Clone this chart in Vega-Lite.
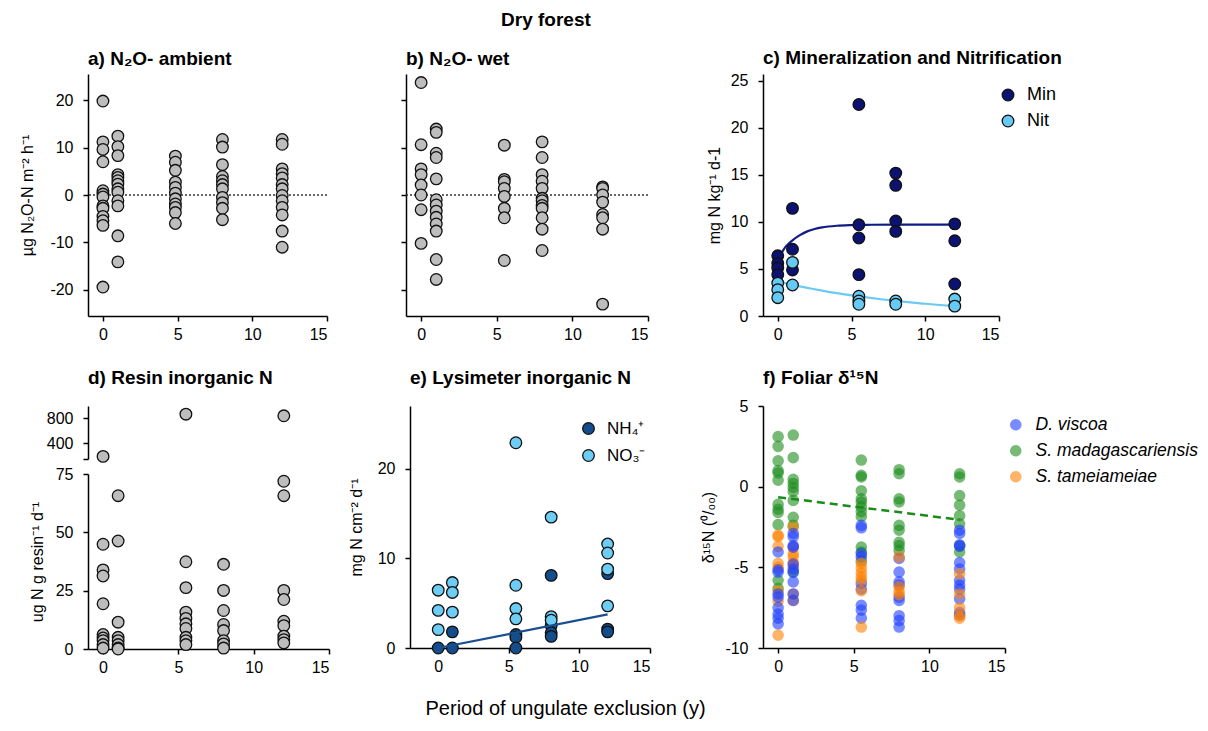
{
  "$schema": "https://vega.github.io/schema/vega-lite/v6.json",
  "padding": {"left": 19, "top": 10, "right": 0, "bottom": 0},
  "title": {"text": "Dry forest", "anchor": "middle", "frame": "bounds", "fontSize": 19, "offset": 19, "dx": -63},
  "datasets": {
    "amb": [
      {"x": 0, "v": 19.8}, {"x": 0, "v": 11.2}, {"x": 0, "v": 9.6}, {"x": 0, "v": 7.0}, {"x": 0, "v": 0.9}, {"x": 0, "v": 0.2}, {"x": 0, "v": -0.4}, {"x": 0, "v": -2.3}, {"x": 0, "v": -2.8}, {"x": 0, "v": -4.5}, {"x": 0, "v": -5.4}, {"x": 0, "v": -6.4}, {"x": 0, "v": -19.4},
      {"x": 1, "v": 12.4}, {"x": 1, "v": 10.2}, {"x": 1, "v": 8.3}, {"x": 1, "v": 4.3}, {"x": 1, "v": 3.7}, {"x": 1, "v": 3.0}, {"x": 1, "v": 2.3}, {"x": 1, "v": 1.3}, {"x": 1, "v": 0.6}, {"x": 1, "v": -1.2}, {"x": 1, "v": -2.3}, {"x": 1, "v": -8.6}, {"x": 1, "v": -14.1},
      {"x": 4.85, "v": 8.2}, {"x": 4.85, "v": 6.9}, {"x": 4.85, "v": 5.2}, {"x": 4.85, "v": 2.7}, {"x": 4.85, "v": 1.6}, {"x": 4.85, "v": 0.4}, {"x": 4.85, "v": -0.8}, {"x": 4.85, "v": -1.9}, {"x": 4.85, "v": -2.6}, {"x": 4.85, "v": -3.7}, {"x": 4.85, "v": -6.0},
      {"x": 8, "v": 11.7}, {"x": 8, "v": 10.1}, {"x": 8, "v": 6.4}, {"x": 8, "v": 3.9}, {"x": 8, "v": 3.0}, {"x": 8, "v": 2.2}, {"x": 8, "v": 1.3}, {"x": 8, "v": -0.5}, {"x": 8, "v": -1.6}, {"x": 8, "v": -2.8}, {"x": 8, "v": -5.2},
      {"x": 12, "v": 11.7}, {"x": 12, "v": 10.7}, {"x": 12, "v": 5.5}, {"x": 12, "v": 4.5}, {"x": 12, "v": 3.6}, {"x": 12, "v": 2.2}, {"x": 12, "v": 1.3}, {"x": 12, "v": -0.1}, {"x": 12, "v": -1.2}, {"x": 12, "v": -2.6}, {"x": 12, "v": -4.2}, {"x": 12, "v": -7.6}, {"x": 12, "v": -11.0}
    ],
    "wet": [
      {"x": 0, "v": 23.7}, {"x": 0, "v": 10.6}, {"x": 0, "v": 5.5}, {"x": 0, "v": 4.3}, {"x": 0, "v": 2.1}, {"x": 0, "v": 0}, {"x": 0, "v": -3.1}, {"x": 0, "v": -10.2},
      {"x": 1, "v": 13.9}, {"x": 1, "v": 13.2}, {"x": 1, "v": 8.8}, {"x": 1, "v": 7.9}, {"x": 1, "v": 3.4}, {"x": 1, "v": -1.0}, {"x": 1, "v": -2.1}, {"x": 1, "v": -3.4}, {"x": 1, "v": -4.7}, {"x": 1, "v": -6.1}, {"x": 1, "v": -7.6}, {"x": 1, "v": -13.6}, {"x": 1, "v": -17.8},
      {"x": 5.5, "v": 10.5}, {"x": 5.5, "v": 3.3}, {"x": 5.5, "v": 2.8}, {"x": 5.5, "v": 1.4}, {"x": 5.5, "v": -0.3}, {"x": 5.5, "v": -2.8}, {"x": 5.5, "v": -4.8}, {"x": 5.5, "v": -13.8},
      {"x": 8, "v": 11.2}, {"x": 8, "v": 7.9}, {"x": 8, "v": 4.3}, {"x": 8, "v": 2.9}, {"x": 8, "v": 1.4}, {"x": 8, "v": -0.7}, {"x": 8, "v": -1.2}, {"x": 8, "v": -2.2}, {"x": 8, "v": -2.8}, {"x": 8, "v": -4.8}, {"x": 8, "v": -7.2}, {"x": 8, "v": -11.7},
      {"x": 12, "v": 1.7}, {"x": 12, "v": 1.4}, {"x": 12, "v": 0}, {"x": 12, "v": -1.5}, {"x": 12, "v": -4.1}, {"x": 12, "v": -4.8}, {"x": 12, "v": -7.2}, {"x": 12, "v": -23.0}
    ],
    "minnit": [
      {"x": 0, "t": "Min", "v": 6.4}, {"x": 0, "t": "Min", "v": 5.6}, {"x": 0, "t": "Min", "v": 5.1}, {"x": 0, "t": "Min", "v": 4.4},
      {"x": 1, "t": "Min", "v": 11.45}, {"x": 1, "t": "Min", "v": 7.1}, {"x": 1, "t": "Min", "v": 4.9},
      {"x": 5.5, "t": "Min", "v": 22.5}, {"x": 5.5, "t": "Min", "v": 9.7}, {"x": 5.5, "t": "Min", "v": 8.3}, {"x": 5.5, "t": "Min", "v": 4.4},
      {"x": 8, "t": "Min", "v": 15.2}, {"x": 8, "t": "Min", "v": 13.9}, {"x": 8, "t": "Min", "v": 10.1}, {"x": 8, "t": "Min", "v": 9.0},
      {"x": 12, "t": "Min", "v": 9.8}, {"x": 12, "t": "Min", "v": 8.0}, {"x": 12, "t": "Min", "v": 3.4},
      {"x": 0, "t": "Nit", "v": 3.5}, {"x": 0, "t": "Nit", "v": 2.8}, {"x": 0, "t": "Nit", "v": 1.95},
      {"x": 1, "t": "Nit", "v": 5.7}, {"x": 1, "t": "Nit", "v": 3.3},
      {"x": 5.5, "t": "Nit", "v": 2.1}, {"x": 5.5, "t": "Nit", "v": 1.6}, {"x": 5.5, "t": "Nit", "v": 1.25},
      {"x": 8, "t": "Nit", "v": 1.6}, {"x": 8, "t": "Nit", "v": 1.25},
      {"x": 12, "t": "Nit", "v": 1.8}, {"x": 12, "t": "Nit", "v": 1.05}
    ],
    "minfit": [
      {"x": 0, "v": 6.1}, {"x": 0.25, "v": 6.7}, {"x": 0.5, "v": 7.3}, {"x": 0.75, "v": 7.7}, {"x": 1, "v": 8.05}, {"x": 1.5, "v": 8.6}, {"x": 2, "v": 9.0}, {"x": 2.5, "v": 9.25}, {"x": 3, "v": 9.42}, {"x": 4, "v": 9.6}, {"x": 5, "v": 9.67}, {"x": 6, "v": 9.7}, {"x": 8, "v": 9.72}, {"x": 12, "v": 9.72}
    ],
    "nitfit": [
      {"x": 0, "v": 3.7}, {"x": 1, "v": 3.3}, {"x": 2, "v": 3.0}, {"x": 3, "v": 2.7}, {"x": 4, "v": 2.43}, {"x": 5, "v": 2.2}, {"x": 6, "v": 1.98}, {"x": 7, "v": 1.78}, {"x": 8, "v": 1.6}, {"x": 9, "v": 1.44}, {"x": 10, "v": 1.3}, {"x": 11, "v": 1.17}, {"x": 12, "v": 1.05}
    ],
    "resin": [
      {"x": 0, "v": 192}, {"x": 0, "v": 44.9}, {"x": 0, "v": 33.9}, {"x": 0, "v": 31.3}, {"x": 0, "v": 19.4}, {"x": 0, "v": 6.2}, {"x": 0, "v": 4.7}, {"x": 0, "v": 3.6}, {"x": 0, "v": 1.9}, {"x": 0, "v": 0.4},
      {"x": 1, "v": 65.7}, {"x": 1, "v": 46.3}, {"x": 1, "v": 11.5}, {"x": 1, "v": 5.0}, {"x": 1, "v": 3.6}, {"x": 1, "v": 1.9}, {"x": 1, "v": 0.4}, {"x": 1, "v": 0},
      {"x": 5.5, "v": 869}, {"x": 5.5, "v": 37.4}, {"x": 5.5, "v": 26.3}, {"x": 5.5, "v": 15.8}, {"x": 5.5, "v": 13.1}, {"x": 5.5, "v": 10.8}, {"x": 5.5, "v": 8.8}, {"x": 5.5, "v": 5.0}, {"x": 5.5, "v": 3.6}, {"x": 5.5, "v": 1.9},
      {"x": 8, "v": 36.3}, {"x": 8, "v": 25.1}, {"x": 8, "v": 16.5}, {"x": 8, "v": 10.5}, {"x": 8, "v": 7.9}, {"x": 8, "v": 3.6}, {"x": 8, "v": 2.2}, {"x": 8, "v": 0.4},
      {"x": 12, "v": 843}, {"x": 12, "v": 71.9}, {"x": 12, "v": 65.7}, {"x": 12, "v": 25.1}, {"x": 12, "v": 21.2}, {"x": 12, "v": 11.9}, {"x": 12, "v": 10.0}, {"x": 12, "v": 5.5}, {"x": 12, "v": 4.0}, {"x": 12, "v": 2.6}
    ],
    "lys": [
      {"x": 0, "t": "NH₄⁺", "v": 0}, {"x": 1, "t": "NH₄⁺", "v": 1.8}, {"x": 1, "t": "NH₄⁺", "v": 0},
      {"x": 5.5, "t": "NH₄⁺", "v": 1.5}, {"x": 5.5, "t": "NH₄⁺", "v": 1.2}, {"x": 5.5, "t": "NH₄⁺", "v": 0},
      {"x": 8, "t": "NH₄⁺", "v": 8.1}, {"x": 8, "t": "NH₄⁺", "v": 2.5}, {"x": 8, "t": "NH₄⁺", "v": 1.7}, {"x": 8, "t": "NH₄⁺", "v": 1.3},
      {"x": 12, "t": "NH₄⁺", "v": 8.3}, {"x": 12, "t": "NH₄⁺", "v": 2.1}, {"x": 12, "t": "NH₄⁺", "v": 1.8},
      {"x": 0, "t": "NO₃⁻", "v": 6.45}, {"x": 0, "t": "NO₃⁻", "v": 4.2}, {"x": 0, "t": "NO₃⁻", "v": 2.05},
      {"x": 1, "t": "NO₃⁻", "v": 7.3}, {"x": 1, "t": "NO₃⁻", "v": 6.2}, {"x": 1, "t": "NO₃⁻", "v": 4.0},
      {"x": 5.5, "t": "NO₃⁻", "v": 22.9}, {"x": 5.5, "t": "NO₃⁻", "v": 7.0}, {"x": 5.5, "t": "NO₃⁻", "v": 4.4}, {"x": 5.5, "t": "NO₃⁻", "v": 3.25},
      {"x": 8, "t": "NO₃⁻", "v": 14.6}, {"x": 8, "t": "NO₃⁻", "v": 3.5}, {"x": 8, "t": "NO₃⁻", "v": 3.1},
      {"x": 12, "t": "NO₃⁻", "v": 11.6}, {"x": 12, "t": "NO₃⁻", "v": 10.6}, {"x": 12, "t": "NO₃⁻", "v": 8.8}, {"x": 12, "t": "NO₃⁻", "v": 4.7}
    ],
    "lysfit": [{"x": 0, "v": 0.0}, {"x": 12, "v": 3.75}],
    "fol": [
      {"x": 0, "s": "S. madagascariensis", "v": 3.1}, {"x": 0, "s": "S. madagascariensis", "v": 2.5}, {"x": 0, "s": "S. madagascariensis", "v": 1.6}, {"x": 0, "s": "S. madagascariensis", "v": 1.0}, {"x": 0, "s": "S. madagascariensis", "v": 0.85}, {"x": 0, "s": "S. madagascariensis", "v": 0.4}, {"x": 0, "s": "S. madagascariensis", "v": -1.1}, {"x": 0, "s": "S. madagascariensis", "v": -1.4}, {"x": 0, "s": "S. madagascariensis", "v": -1.6}, {"x": 0, "s": "S. madagascariensis", "v": -2.35}, {"x": 0, "s": "S. madagascariensis", "v": -5.8}, {"x": 0, "s": "S. madagascariensis", "v": -6.3},
      {"x": 0, "s": "S. tameiameiae", "v": -3.0}, {"x": 0, "s": "S. tameiameiae", "v": -3.1}, {"x": 0, "s": "S. tameiameiae", "v": -3.7}, {"x": 0, "s": "S. tameiameiae", "v": -4.75}, {"x": 0, "s": "S. tameiameiae", "v": -5.0}, {"x": 0, "s": "S. tameiameiae", "v": -6.45}, {"x": 0, "s": "S. tameiameiae", "v": -7.1}, {"x": 0, "s": "S. tameiameiae", "v": -9.2},
      {"x": 0, "s": "D. viscoa", "v": -4.05}, {"x": 0, "s": "D. viscoa", "v": -5.15}, {"x": 0, "s": "D. viscoa", "v": -5.3}, {"x": 0, "s": "D. viscoa", "v": -6.65}, {"x": 0, "s": "D. viscoa", "v": -6.85}, {"x": 0, "s": "D. viscoa", "v": -7.5}, {"x": 0, "s": "D. viscoa", "v": -7.9}, {"x": 0, "s": "D. viscoa", "v": -8.15}, {"x": 0, "s": "D. viscoa", "v": -8.5},
      {"x": 1, "s": "S. madagascariensis", "v": 3.2}, {"x": 1, "s": "S. madagascariensis", "v": 1.8}, {"x": 1, "s": "S. madagascariensis", "v": 0.45}, {"x": 1, "s": "S. madagascariensis", "v": 0.2}, {"x": 1, "s": "S. madagascariensis", "v": -0.05}, {"x": 1, "s": "S. madagascariensis", "v": -0.3}, {"x": 1, "s": "S. madagascariensis", "v": -0.85}, {"x": 1, "s": "S. madagascariensis", "v": -1.9}, {"x": 1, "s": "S. madagascariensis", "v": -2.4}, {"x": 1, "s": "S. madagascariensis", "v": -5.3},
      {"x": 1, "s": "S. tameiameiae", "v": -2.5}, {"x": 1, "s": "S. tameiameiae", "v": -3.75}, {"x": 1, "s": "S. tameiameiae", "v": -4.15}, {"x": 1, "s": "S. tameiameiae", "v": -4.35}, {"x": 1, "s": "S. tameiameiae", "v": -4.7}, {"x": 1, "s": "S. tameiameiae", "v": -4.9}, {"x": 1, "s": "S. tameiameiae", "v": -6.65}, {"x": 1, "s": "S. tameiameiae", "v": -7.05},
      {"x": 1, "s": "D. viscoa", "v": -2.9}, {"x": 1, "s": "D. viscoa", "v": -3.1}, {"x": 1, "s": "D. viscoa", "v": -3.65}, {"x": 1, "s": "D. viscoa", "v": -3.75}, {"x": 1, "s": "D. viscoa", "v": -4.8}, {"x": 1, "s": "D. viscoa", "v": -5.1}, {"x": 1, "s": "D. viscoa", "v": -5.3}, {"x": 1, "s": "D. viscoa", "v": -5.9}, {"x": 1, "s": "D. viscoa", "v": -6.65}, {"x": 1, "s": "D. viscoa", "v": -7.05},
      {"x": 5.5, "s": "S. madagascariensis", "v": 1.65}, {"x": 5.5, "s": "S. madagascariensis", "v": 0.7}, {"x": 5.5, "s": "S. madagascariensis", "v": 0.6}, {"x": 5.5, "s": "S. madagascariensis", "v": -0.25}, {"x": 5.5, "s": "S. madagascariensis", "v": -0.75}, {"x": 5.5, "s": "S. madagascariensis", "v": -0.95}, {"x": 5.5, "s": "S. madagascariensis", "v": -1.25}, {"x": 5.5, "s": "S. madagascariensis", "v": -1.55}, {"x": 5.5, "s": "S. madagascariensis", "v": -1.85}, {"x": 5.5, "s": "S. madagascariensis", "v": -3.75}, {"x": 5.5, "s": "S. madagascariensis", "v": -4.05}, {"x": 5.5, "s": "S. madagascariensis", "v": -4.6},
      {"x": 5.5, "s": "D. viscoa", "v": -2.4}, {"x": 5.5, "s": "D. viscoa", "v": -2.55}, {"x": 5.5, "s": "D. viscoa", "v": -4.15}, {"x": 5.5, "s": "D. viscoa", "v": -4.35}, {"x": 5.5, "s": "D. viscoa", "v": -6.0}, {"x": 5.5, "s": "D. viscoa", "v": -6.35}, {"x": 5.5, "s": "D. viscoa", "v": -7.35}, {"x": 5.5, "s": "D. viscoa", "v": -7.65}, {"x": 5.5, "s": "D. viscoa", "v": -8.15},
      {"x": 5.5, "s": "S. tameiameiae", "v": -4.75}, {"x": 5.5, "s": "S. tameiameiae", "v": -5.05}, {"x": 5.5, "s": "S. tameiameiae", "v": -5.35}, {"x": 5.5, "s": "S. tameiameiae", "v": -5.6}, {"x": 5.5, "s": "S. tameiameiae", "v": -5.8}, {"x": 5.5, "s": "S. tameiameiae", "v": -6.45}, {"x": 5.5, "s": "S. tameiameiae", "v": -8.7},
      {"x": 8, "s": "S. madagascariensis", "v": 1.05}, {"x": 8, "s": "S. madagascariensis", "v": 0.8}, {"x": 8, "s": "S. madagascariensis", "v": -0.75}, {"x": 8, "s": "S. madagascariensis", "v": -0.95}, {"x": 8, "s": "S. madagascariensis", "v": -2.4}, {"x": 8, "s": "S. madagascariensis", "v": -2.7}, {"x": 8, "s": "S. madagascariensis", "v": -3.45}, {"x": 8, "s": "S. madagascariensis", "v": -3.65}, {"x": 8, "s": "S. madagascariensis", "v": -3.95},
      {"x": 8, "s": "D. viscoa", "v": -4.45}, {"x": 8, "s": "D. viscoa", "v": -5.3}, {"x": 8, "s": "D. viscoa", "v": -5.9}, {"x": 8, "s": "D. viscoa", "v": -6.1}, {"x": 8, "s": "D. viscoa", "v": -6.85}, {"x": 8, "s": "D. viscoa", "v": -7.05}, {"x": 8, "s": "D. viscoa", "v": -8.0}, {"x": 8, "s": "D. viscoa", "v": -8.3}, {"x": 8, "s": "D. viscoa", "v": -8.7},
      {"x": 8, "s": "S. tameiameiae", "v": -4.35}, {"x": 8, "s": "S. tameiameiae", "v": -6.2}, {"x": 8, "s": "S. tameiameiae", "v": -6.5}, {"x": 8, "s": "S. tameiameiae", "v": -6.7},
      {"x": 12, "s": "S. madagascariensis", "v": 0.8}, {"x": 12, "s": "S. madagascariensis", "v": 0.6}, {"x": 12, "s": "S. madagascariensis", "v": -0.55}, {"x": 12, "s": "S. madagascariensis", "v": -1.15}, {"x": 12, "s": "S. madagascariensis", "v": -1.8}, {"x": 12, "s": "S. madagascariensis", "v": -2.3}, {"x": 12, "s": "S. madagascariensis", "v": -3.65}, {"x": 12, "s": "S. madagascariensis", "v": -4.05},
      {"x": 12, "s": "D. viscoa", "v": -2.7}, {"x": 12, "s": "D. viscoa", "v": -2.9}, {"x": 12, "s": "D. viscoa", "v": -3.6}, {"x": 12, "s": "D. viscoa", "v": -3.7}, {"x": 12, "s": "D. viscoa", "v": -4.7}, {"x": 12, "s": "D. viscoa", "v": -5.1}, {"x": 12, "s": "D. viscoa", "v": -5.8}, {"x": 12, "s": "D. viscoa", "v": -6.1}, {"x": 12, "s": "D. viscoa", "v": -6.35}, {"x": 12, "s": "D. viscoa", "v": -6.95}, {"x": 12, "s": "D. viscoa", "v": -7.8}, {"x": 12, "s": "D. viscoa", "v": -7.95},
      {"x": 12, "s": "S. tameiameiae", "v": -5.4}, {"x": 12, "s": "S. tameiameiae", "v": -6.65}, {"x": 12, "s": "S. tameiameiae", "v": -7.5}, {"x": 12, "s": "S. tameiameiae", "v": -8.0}, {"x": 12, "s": "S. tameiameiae", "v": -8.15}
    ],
    "folfit": [{"x": 0, "v": -0.65}, {"x": 12, "v": -2.05}]
  },
  "spacing": 26,
  "resolve": {"scale": {"fill": "independent", "color": "independent"}, "legend": {"fill": "independent", "color": "independent"}},
  "vconcat": [
    {
      "spacing": 72,
      "resolve": {"scale": {"fill": "independent", "color": "independent"}, "legend": {"fill": "independent", "color": "independent"}},
      "hconcat": [
        {
          "width": 239, "height": 242,
          "title": {"text": "a) N₂O- ambient", "offset": 5},
          "layer": [
            {"data": {"values": [{}]}, "mark": {"type": "rule", "strokeDash": [2, 2], "color": "#333", "strokeWidth": 1.3}, "encoding": {"y": {"datum": 0, "type": "quantitative"}}},
            {"data": {"name": "amb"}, "mark": {"type": "circle", "size": 135, "fill": "#bdbdbd", "stroke": "#111", "strokeWidth": 1.3, "opacity": 1},
             "encoding": {
               "x": {"field": "x", "type": "quantitative", "scale": {"domain": [-1, 15], "nice": false}, "axis": {"values": [0, 5, 10, 15], "title": null}},
               "y": {"field": "v", "type": "quantitative", "scale": {"domain": [-25.5, 25.5], "nice": false}, "axis": {"values": [-20, -10, 0, 10, 20], "title": "µg N₂O-N m⁻² h⁻¹", "titlePadding": 14}}
             }}
          ]
        },
        {
          "spacing": 57,
          "resolve": {"scale": {"fill": "independent", "color": "independent"}, "legend": {"fill": "independent", "color": "independent"}},
          "hconcat": [
            {
              "width": 242, "height": 242,
              "title": {"text": "b) N₂O- wet", "offset": 5},
              "layer": [
                {"data": {"values": [{}]}, "mark": {"type": "rule", "strokeDash": [2, 2], "color": "#333", "strokeWidth": 1.3}, "encoding": {"y": {"datum": 0, "type": "quantitative"}}},
                {"data": {"name": "wet"}, "mark": {"type": "circle", "size": 135, "fill": "#bdbdbd", "stroke": "#111", "strokeWidth": 1.3, "opacity": 1},
                 "encoding": {
                   "x": {"field": "x", "type": "quantitative", "scale": {"domain": [-1, 15], "nice": false}, "axis": {"values": [0, 5, 10, 15], "title": null}},
                   "y": {"field": "v", "type": "quantitative", "scale": {"domain": [-25.5, 25.5], "nice": false}, "axis": {"values": [-20, -10, 0, 10, 20], "labels": false, "title": null}}
                 }}
              ]
            },
            {
              "width": 236, "height": 242,
              "title": {"text": "c) Mineralization and Nitrification", "offset": 5},
              "layer": [
                {"data": {"name": "minfit"}, "mark": {"type": "line", "color": "#101c85", "strokeWidth": 2.2, "interpolate": "monotone"},
                 "encoding": {"x": {"field": "x", "type": "quantitative"}, "y": {"field": "v", "type": "quantitative"}}},
                {"data": {"name": "nitfit"}, "mark": {"type": "line", "color": "#6ccaf2", "strokeWidth": 2.2, "interpolate": "monotone"},
                 "encoding": {"x": {"field": "x", "type": "quantitative"}, "y": {"field": "v", "type": "quantitative"}}},
                {"data": {"name": "minnit"}, "mark": {"type": "circle", "size": 135, "stroke": "#111", "strokeWidth": 1.3, "opacity": 1},
                 "encoding": {
                   "x": {"field": "x", "type": "quantitative", "scale": {"domain": [-1, 15], "nice": false}, "axis": {"values": [0, 5, 10, 15], "title": null}},
                   "y": {"field": "v", "type": "quantitative", "scale": {"domain": [0, 25.74], "nice": false}, "axis": {"values": [0, 5, 10, 15, 20, 25], "title": "mg N kg⁻¹ d-1", "titlePadding": 8}},
                   "fill": {"field": "t", "type": "nominal", "scale": {"domain": ["Min", "Nit"], "range": ["#0b1272", "#66cbf4"]},
                            "legend": {"title": null, "orient": "none", "legendX": 236, "legendY": 12, "symbolSize": 135, "symbolStrokeColor": "#111", "symbolStrokeWidth": 1.3, "labelFontSize": 18, "labelOffset": 10, "rowPadding": 8, "padding": 0}}
                 }}
              ]
            }
          ]
        }
      ]
    },
    {
      "title": {"text": "Period of ungulate exclusion (y)", "orient": "bottom", "anchor": "middle", "frame": "bounds", "fontSize": 20, "fontWeight": "normal", "offset": 24, "dx": -48},
      "spacing": 18,
      "resolve": {"scale": {"fill": "independent", "color": "independent"}, "legend": {"fill": "independent", "color": "independent"}},
      "hconcat": [
        {
          "vconcat": [
            {
              "width": 241, "height": 53,
              "title": {"text": "d) Resin inorganic N", "offset": 18},
              "data": {"name": "resin"},
              "transform": [{"filter": "datum.v > 100"}],
              "mark": {"type": "circle", "size": 135, "fill": "#bdbdbd", "stroke": "#111", "strokeWidth": 1.3, "opacity": 1},
              "encoding": {
                "x": {"field": "x", "type": "quantitative", "scale": {"domain": [-1, 15], "nice": false}, "axis": null},
                "y": {"field": "v", "type": "quantitative", "scale": {"domain": [150, 1000], "nice": false, "zero": false}, "axis": {"values": [150, 400, 800], "labelExpr": "datum.value == 150 ? '' : datum.label", "title": null}}
              }
            },
            {
              "width": 241, "height": 175,
              "data": {"name": "resin"},
              "transform": [{"filter": "datum.v <= 100"}],
              "mark": {"type": "circle", "size": 135, "fill": "#bdbdbd", "stroke": "#111", "strokeWidth": 1.3, "opacity": 1},
              "encoding": {
                "x": {"field": "x", "type": "quantitative", "scale": {"domain": [-1, 15], "nice": false}, "axis": {"values": [0, 5, 10, 15], "title": null}},
                "y": {"field": "v", "type": "quantitative", "scale": {"domain": [0, 75], "nice": false}, "axis": {"values": [0, 25, 50, 75], "title": "ug N g resin⁻¹ d⁻¹", "titlePadding": 10}}
              }
            }
          ],
          "spacing": 1
        },
        {
          "spacing": 49,
          "resolve": {"scale": {"fill": "independent", "color": "independent"}, "legend": {"fill": "independent", "color": "independent"}},
          "hconcat": [
            {
              "width": 240, "height": 242,
              "title": {"text": "e) Lysimeter inorganic N", "offset": 18},
              "layer": [
                {"data": {"name": "lys"}, "mark": {"type": "circle", "size": 135, "stroke": "#111", "strokeWidth": 1.3, "opacity": 1},
                 "encoding": {
                   "x": {"field": "x", "type": "quantitative", "scale": {"domain": [-2, 15], "nice": false}, "axis": {"values": [0, 5, 10, 15], "title": null}},
                   "y": {"field": "v", "type": "quantitative", "scale": {"domain": [0, 27], "nice": false}, "axis": {"values": [0, 10, 20], "title": "mg N cm⁻² d⁻¹", "titlePadding": 13}},
                   "fill": {"field": "t", "type": "nominal", "scale": {"domain": ["NH₄⁺", "NO₃⁻"], "range": ["#134d8c", "#6dcdf5"]},
                            "legend": {"title": null, "orient": "none", "legendX": 170, "legendY": 14, "symbolSize": 135, "symbolStrokeColor": "#111", "symbolStrokeWidth": 1.3, "labelFontSize": 17, "labelOffset": 10, "rowPadding": 9, "padding": 0}}
                 }},
                {"data": {"name": "lysfit"}, "mark": {"type": "line", "color": "#1a4f8f", "strokeWidth": 2.2},
                 "encoding": {"x": {"field": "x", "type": "quantitative"}, "y": {"field": "v", "type": "quantitative"}}}
              ]
            },
            {
              "width": 242, "height": 242,
              "title": {"text": "f) Foliar δ¹⁵N", "offset": 10},
              "layer": [
                {"data": {"name": "fol"}, "mark": {"type": "circle", "size": 135, "opacity": 0.6},
                 "encoding": {
                   "x": {"field": "x", "type": "quantitative", "scale": {"domain": [-1, 15], "nice": false}, "axis": {"values": [0, 5, 10, 15], "title": null}},
                   "y": {"field": "v", "type": "quantitative", "scale": {"domain": [-10, 5], "nice": false}, "axis": {"values": [-10, -5, 0, 5], "title": "δ¹⁵N (⁰/₀₀)", "titlePadding": 8}},
                   "color": {"field": "s", "type": "nominal", "scale": {"domain": ["D. viscoa", "S. madagascariensis", "S. tameiameiae"], "range": ["#2040ff", "#1a8c1a", "#ff8000"]},
                             "legend": {"title": null, "orient": "none", "legendX": 244, "legendY": 10, "symbolSize": 135, "symbolOpacity": 0.6, "labelFontSize": 17.5, "labelFontStyle": "italic", "labelOffset": 11, "labelLimit": 400, "rowPadding": 7, "padding": 0}}
                 }},
                {"data": {"name": "folfit"}, "mark": {"type": "line", "color": "#1a8c1a", "strokeWidth": 2.5, "strokeDash": [8, 5]},
                 "encoding": {"x": {"field": "x", "type": "quantitative"}, "y": {"field": "v", "type": "quantitative"}}}
              ]
            }
          ]
        }
      ]
    }
  ],
  "config": {
    "font": "Liberation Sans",
    "locale": {"number": {"decimal": ".", "thousands": ",", "grouping": [3], "currency": ["$", ""], "minus": "-"}},
    "view": {"stroke": null},
    "axis": {"grid": false, "domainColor": "#000", "tickColor": "#000", "labelColor": "#000", "titleColor": "#000", "labelFontSize": 16, "titleFontSize": 16, "titleFontWeight": "normal", "tickSize": 5, "domainWidth": 1.5, "tickWidth": 1.5, "titlePadding": 8},
    "axisY": {"labelPadding": 10},
    "axisX": {"labelPadding": 5},
    "title": {"fontSize": 19, "fontWeight": "bold", "anchor": "start", "frame": "group", "color": "#000"},
    "legend": {"labelColor": "#000", "labelLimit": 400}
  }
}
